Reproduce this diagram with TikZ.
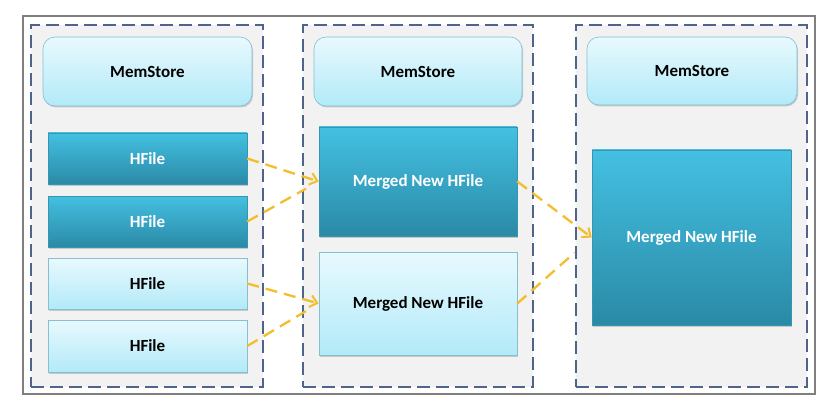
\documentclass[tikz,border=0pt]{standalone}
\usepackage{fontspec}
\setmainfont{Carlito}
\usetikzlibrary{arrows.meta,shadows,calc}
\definecolor{framec}{HTML}{7F7F7F}
\definecolor{dashc}{HTML}{4E648A}
\definecolor{panelc}{HTML}{F2F2F2}
\definecolor{darktop}{HTML}{44C0E2}
\definecolor{darkbot}{HTML}{2A8AA6}
\definecolor{darkline}{HTML}{3696B0}
\definecolor{lighttop}{HTML}{E8F9FE}
\definecolor{lightbot}{HTML}{B2EAF8}
\definecolor{lightline}{HTML}{86BFD0}
\definecolor{arrowc}{HTML}{F2BE2C}
\tikzset{
  panel/.style={draw=dashc, fill=panelc, line width=2.7pt, dash pattern=on 13pt off 6pt, inner sep=0pt},
  boxshadow/.style={drop shadow={shadow xshift=1pt, shadow yshift=-1.5pt, opacity=0.3, fill=black!60}},
  darkbox/.style={draw=darkline, line width=0.6pt, top color=darktop, bottom color=darkbot, text=white,
     font=\fontsize{17}{20}\selectfont\bfseries, inner sep=0pt, boxshadow},
  lightbox/.style={draw=lightline, line width=0.6pt, top color=lighttop, bottom color=lightbot, text=black,
     font=\fontsize{17}{20}\selectfont\bfseries, inner sep=0pt, boxshadow},
  memstore/.style={lightbox, rounded corners=12pt},
  conn/.style={draw=arrowc, line width=2.3pt, dash pattern=on 12pt off 7pt},
  connarrow/.style={conn, -{Straight Barb[length=7pt,width=12pt,line width=2pt]}}
}
\begin{document}
\begin{tikzpicture}[x=1pt,y=-1pt]
\useasboundingbox (0,0) rectangle (838,417);
\fill[white] (0,0) rectangle (838,417);
\draw[framec, line width=1.8pt] (23,16) rectangle (815,394);
% panels
\node[panel, minimum width=232, minimum height=362] (p1) at (147,206) {};
\node[panel, minimum width=230, minimum height=362] (p2) at (418,206) {};
\node[panel, minimum width=231, minimum height=362] (p3) at (691.5,206) {};
% memstores
\node[memstore, minimum width=209, minimum height=69] (ms1) at (147.5,71.5) {MemStore};
\node[memstore, minimum width=208, minimum height=69] (ms2) at (418,71.5) {MemStore};
\node[memstore, minimum width=210, minimum height=68] (ms3) at (692,71) {MemStore};
% hfiles
\node[darkbox, minimum width=199, minimum height=51] (h1) at (147.5,158.5) {HFile};
\node[darkbox, minimum width=199, minimum height=51] (h2) at (147.5,221.5) {HFile};
\node[lightbox, minimum width=199, minimum height=51] (h3) at (147.5,283.5) {HFile};
\node[lightbox, minimum width=199, minimum height=52] (h4) at (147.5,346) {HFile};
% merged
\node[darkbox, minimum width=198, minimum height=109] (m1) at (418,181.5) {Merged New HFile};
\node[lightbox, minimum width=198, minimum height=103] (m2) at (418,303.5) {Merged New HFile};
\node[darkbox, minimum width=199, minimum height=175] (m3) at (691.5,237.5) {Merged New HFile};
% connectors
\coordinate (e2) at ($(h2.east)!0.82!(m1.west)$);
\coordinate (e4) at ($(h4.east)!0.82!(m2.west)$);
\coordinate (e6) at ($(m2.east)!0.77!(m3.west)$);
\draw[connarrow] (h1.east) -- (m1.west);
\draw[conn] (h2.east) -- (e2);
\draw[connarrow] (h3.east) -- (m2.west);
\draw[conn] (h4.east) -- (e4);
\draw[connarrow] (m1.east) -- (m3.west);
\draw[conn] (m2.east) -- (e6);
\end{tikzpicture}
\end{document}
